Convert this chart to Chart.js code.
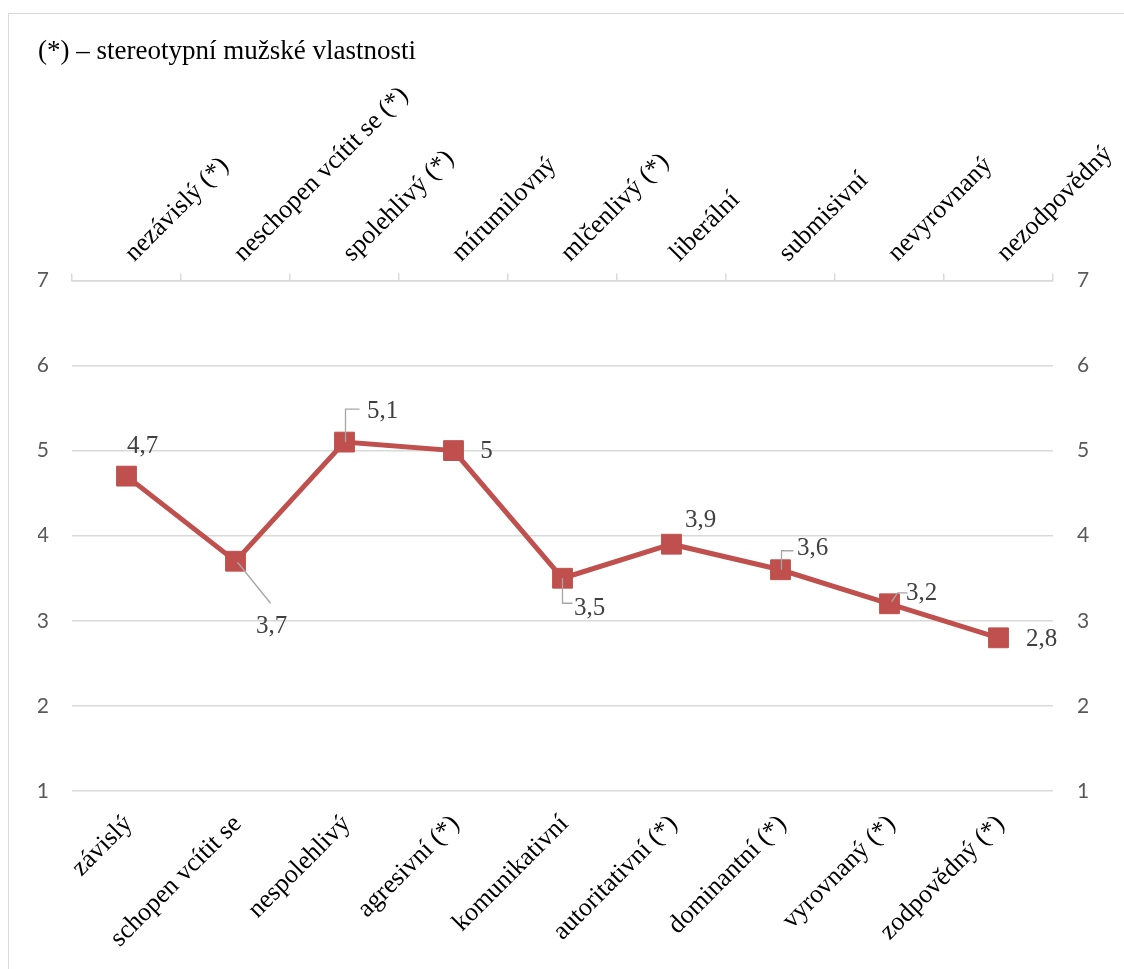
<!DOCTYPE html>
<html><head><meta charset="utf-8">
<script src="https://cdn.jsdelivr.net/npm/chart.js@4.4.1/dist/chart.umd.min.js"></script>
<style>
html,body{margin:0;padding:0;background:#fff;overflow:hidden;width:1124px;height:969px;}
#frame{position:absolute;left:8px;top:13px;width:1200px;height:1000px;border:1px solid #d9d9d9;box-sizing:border-box;}
#wrap{position:absolute;left:0;top:0;width:1124px;height:969px;}
</style></head><body>
<div id="frame"></div>
<div id="wrap"><canvas id="c" width="1124" height="969"></canvas></div>
<script>
const chartTitle = '(*) – stereotypní mužské vlastnosti';
const bottomLabels = ['závislý','schopen vcítit se','nespolehlivý','agresivní (*)','komunikativní','autoritativní (*)','dominantní (*)','vyrovnaný (*)','zodpovědný (*)'];
const topLabels = ['nezávislý (*)','neschopen vcítit se (*)','spolehlivý (*)','mírumilovný','mlčenlivý (*)','liberální','submisivní','nevyrovnaný','nezodpovědný'];
const values = [4.7, 3.7, 5.1, 5.0, 3.5, 3.9, 3.6, 3.2, 2.8];
const yTickValues = [1, 2, 3, 4, 5, 6, 7];

// label placement (style only): offset of label centre from point, optional leader line
const labelPlacement = [
  {dx:16, dy:-30},
  {dx:36, dy:65, leader:[[2,1],[35,42]]},
  {dx:38, dy:-31, leader:[[1,0],[1,-33],[15,-33]]},
  {dx:33, dy:1},
  {dx:27, dy:30, leader:[[0,0],[0,25],[10,25]]},
  {dx:29, dy:-24},
  {dx:32, dy:-21, leader:[[1,0],[1,-19],[13,-19]]},
  {dx:32, dy:-10, leader:[[2,-2],[8,-11],[18,-11]]},
  {dx:43, dy:2}
];

const dataLabelPlugin = {
  id: 'dataLabels',
  afterDatasetsDraw(chart) {
    const ctx = chart.ctx;
    const meta = chart.getDatasetMeta(0);
    ctx.save();
    meta.data.forEach((pt, i) => {
      const p = labelPlacement[i];
      const x = pt.x, y = pt.y;
      if (p.leader) {
        ctx.beginPath();
        ctx.strokeStyle = '#a6a6a6';
        ctx.lineWidth = 1.3;
        p.leader.forEach(([lx, ly], k) => { k ? ctx.lineTo(x + lx, y + ly) : ctx.moveTo(x + lx, y + ly); });
        ctx.stroke();
      }
      ctx.font = '25px "Liberation Serif", "Times New Roman", serif';
      ctx.fillStyle = '#404040';
      ctx.textAlign = 'center';
      ctx.textBaseline = 'middle';
      ctx.fillText(String(values[i]).replace('.', ','), x + p.dx, y + p.dy);
    });
    ctx.restore();
  }
};

const catFont = {family: '"Liberation Serif", "Times New Roman", serif', size: 26, weight: 'normal'};
const numFont = {family: 'Lato, "Open Sans", sans-serif', size: 21};
const yMin = Math.min(...yTickValues), yMax = Math.max(...yTickValues);

new Chart(document.getElementById('c'), {
  type: 'line',
  data: {
    labels: bottomLabels,
    datasets: [{
      data: values,
      borderColor: '#C0504D',
      backgroundColor: '#C0504D',
      borderWidth: 5,
      pointStyle: 'rect',
      pointRadius: 14,
      pointHoverRadius: 14,
      pointBackgroundColor: '#C0504D',
      pointBorderColor: '#C0504D',
      pointBorderWidth: 1,
      tension: 0,
      clip: false
    }]
  },
  options: {
    responsive: false,
    devicePixelRatio: 1,
    animation: false,
    layout: {padding: {left: 38, right: 21, top: 0, bottom: 8}},
    plugins: {
      legend: {display: false},
      tooltip: {enabled: false},
      title: {
        display: true, text: chartTitle, align: 'start', color: '#000',
        font: {family: '"Liberation Serif", "Times New Roman", serif', size: 27, weight: 'normal'},
        padding: {top: 36, bottom: 12}
      }
    },
    scales: {
      x: {
        type: 'category', position: 'bottom', offset: true,
        grid: {display: false, drawTicks: false},
        border: {display: false},
        ticks: {autoSkip: false, maxRotation: 45, minRotation: 45, padding: 18, labelOffset: 2, font: catFont, color: '#000'},
        afterFit(s) { s.height = 170; }
      },
      x2: {
        type: 'category', position: 'top', labels: topLabels, offset: true,
        grid: {display: true, drawOnChartArea: false, drawTicks: true, tickLength: 7, offset: true, color: '#d9d9d9', lineWidth: 1.5},
        border: {display: true, color: '#d9d9d9', width: 1.5},
        ticks: {autoSkip: false, maxRotation: 45, minRotation: 45, padding: 5, labelOffset: 25, font: catFont, color: '#000'},
        afterFit(s) { s.height = 200; }
      },
      y: {
        position: 'left', min: yMin, max: yMax,
        ticks: {stepSize: 1, padding: 23, font: numFont, color: '#595959'},
        grid: {color: '#d9d9d9', lineWidth: 1.5, drawTicks: false},
        border: {display: false},
        afterFit(s) { s.width = 34; }
      },
      y2: {
        position: 'right', min: yMin, max: yMax,
        ticks: {stepSize: 1, padding: 24, font: numFont, color: '#595959'},
        grid: {drawOnChartArea: false, drawTicks: false},
        border: {display: false},
        afterFit(s) { s.width = 50; }
      }
    }
  },
  plugins: [dataLabelPlugin]
});
</script>
</body></html>
